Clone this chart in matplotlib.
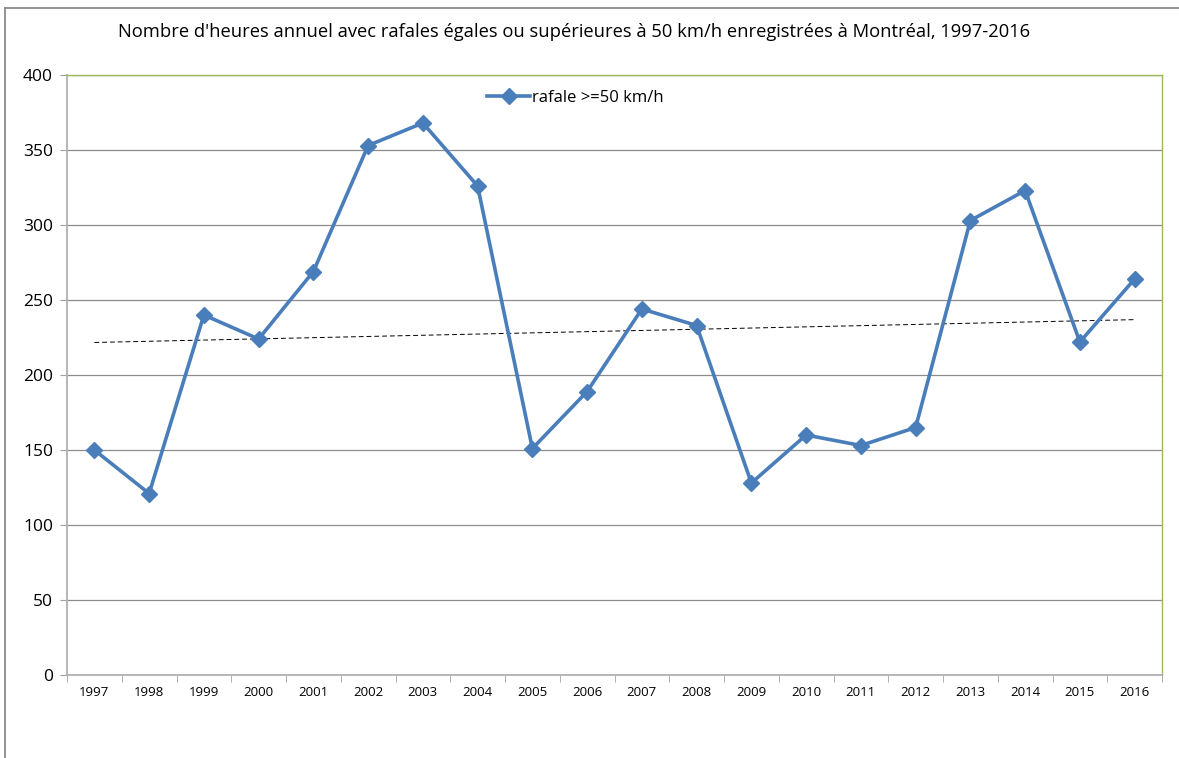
import numpy as np
import matplotlib
matplotlib.use("Agg")
import matplotlib.pyplot as plt
from matplotlib.lines import Line2D

years = ["1997", "1998", "1999", "2000", "2001", "2002", "2003", "2004", "2005", "2006",
         "2007", "2008", "2009", "2010", "2011", "2012", "2013", "2014", "2015", "2016"]
hours = [150, 121, 240, 224, 269, 353, 368, 326, 151, 189,
         244, 233, 128, 160, 153, 165, 303, 323, 222, 264]
yticks = [0, 50, 100, 150, 200, 250, 300, 350, 400]

BLUE = "#4A7EBB"
GREEN = "#9BBB59"

plt.rcParams["font.family"] = ["Open Sans", "DejaVu Sans"]

fig = plt.figure(figsize=(11.79, 7.58), dpi=100)
ax = fig.add_axes([67 / 1179, 83 / 758, 1095 / 1179, 600 / 758])

x = np.arange(len(years))
ax.plot(x, hours, color=BLUE, lw=2.6, marker="D", markersize=8.5,
        label="rafale >=50 km/h", zorder=3)

# linear trend line
coef = np.polyfit(x, hours, 1)
ax.plot(x, np.polyval(coef, x), color="black", lw=0.7, ls=(0, (5, 3)), zorder=2)

ax.set_xlim(-0.5, len(years) - 0.5)
ax.set_ylim(0, 400)
ax.set_yticks(yticks)
ax.set_yticklabels([str(v) for v in yticks], fontsize=12.5)
ax.set_xticks(x)
ax.set_xticklabels(years, fontsize=9.5)
ax.set_xticks(np.arange(-0.5, len(years)), minor=True)
ax.tick_params(axis="x", which="major", length=0, pad=8)
ax.tick_params(axis="x", which="minor", length=5, color="#a0a0a0")
ax.tick_params(axis="y", length=5, color="#a0a0a0", pad=5)
ax.grid(True, axis="y", color="#8c8c8c", lw=0.9)
ax.set_axisbelow(True)

for s in ("left", "bottom"):
    ax.spines[s].set_color("#b0b0b0")
    ax.spines[s].set_linewidth(1.3)
for s in ("top", "right"):
    ax.spines[s].set_color(GREEN)
    ax.spines[s].set_linewidth(1.0)

ax.legend(loc="upper left", bbox_to_anchor=(0.37, 1.0), frameon=False,
          fontsize=12, handlelength=2.6, handletextpad=0.1)

fig.text(574 / 1179, 1 - 32 / 758,
         "Nombre d'heures annuel avec rafales égales ou supérieures à 50 km/h enregistrées à Montréal, 1997-2016",
         ha="center", va="center", fontsize=13.2)

# outer chart frame (partially visible)
fig.add_artist(Line2D([5 / 1179, 5 / 1179], [0, 1 - 8 / 758], transform=fig.transFigure,
                      color="#8a8a8a", lw=1.3))
fig.add_artist(Line2D([5 / 1179, 1], [1 - 8 / 758, 1 - 8 / 758], transform=fig.transFigure,
                      color="#8a8a8a", lw=1.3))

fig.savefig("out.png", dpi=100)
